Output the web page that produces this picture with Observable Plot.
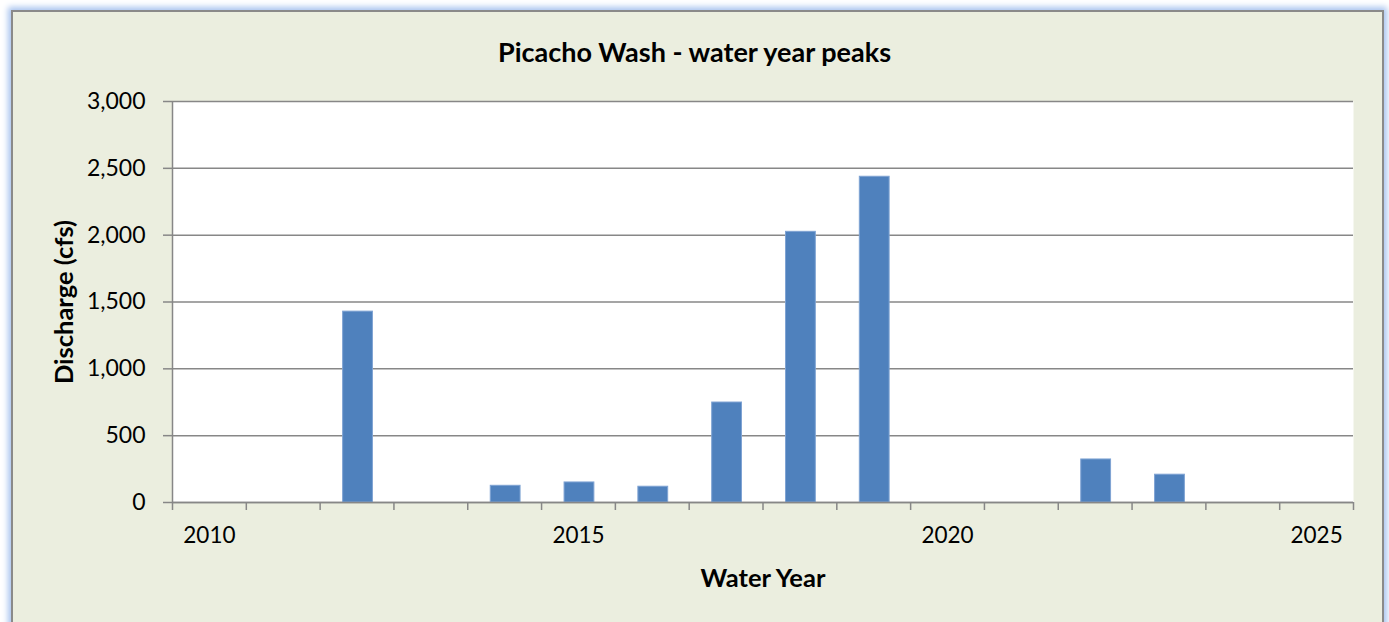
<!DOCTYPE html>
<html>
<head>
<meta charset="utf-8">
<script src="https://cdn.jsdelivr.net/npm/d3@7"></script>
<script src="https://cdn.jsdelivr.net/npm/@observablehq/plot@0.6"></script>
<style>
  html, body { margin: 0; padding: 0; background: #ffffff; width: 1389px; height: 622px; overflow: hidden; }
  #frame {
    position: absolute; left: 11px; top: 10px; width: 1369px; height: 640px;
    background: #EBEEDF; border: 2px solid #8a8a8a;
    box-shadow: 0 0 6px 3px #a9c4ef;
  }
  #title {
    position: absolute; left: 0; width: 1389px; text-align: center; line-height: 32px;
    top: 36px; font-family: Lato, sans-serif; font-weight: bold; font-size: 27px; color: #000;
  }
  #chart { position: absolute; left: 0; top: 0; }
</style>
</head>
<body>
<div id="frame"></div>
<div id="title">Picacho Wash - water year peaks</div>
<div id="chart"></div>
<script>
const years = [2010, 2011, 2012, 2013, 2014, 2015, 2016, 2017, 2018, 2019, 2020, 2021, 2022, 2023, 2024, 2025];
const peaks = [0, 0, 1428, 0, 125, 150, 118, 748, 2025, 2437, 0, 0, 322, 208, 0, 0];
const labelYears = [2010, 2015, 2020, 2025];
const yTicks = [0, 500, 1000, 1500, 2000, 2500, 3000];

const data = years.map((y, i) => ({year: y, peak: peaks[i]}));
const bounds = [...years.map(y => y - 0.5), years[years.length - 1] + 0.5];
const bars = data.filter(d => d.peak > 0);

const plot = Plot.plot({
  width: 1389,
  height: 622,
  marginLeft: 172,
  marginRight: 36,
  marginTop: 101,
  marginBottom: 120,
  style: {background: "transparent", fontFamily: "Lato, sans-serif", fontSize: "23px", color: "#000"},
  x: {type: "linear", domain: [bounds[0], bounds[bounds.length - 1]]},
  y: {domain: [0, 3000]},
  marks: [
    Plot.frame({fill: "#ffffff", stroke: null}),
    Plot.gridY(yTicks, {stroke: "#878787", strokeOpacity: 1, strokeWidth: 1.5}),
    Plot.rectY(bars, {x1: d => d.year - 0.5, x2: d => d.year + 0.5, y: "peak", fill: "#4F81BD", stroke: "#7fa3d3", strokeWidth: 1, insetLeft: 23, insetRight: 21}),
    Plot.ruleX([bounds[0]], {stroke: "#878787", strokeWidth: 1.5}),
    Plot.ruleY([0], {stroke: "#878787", strokeWidth: 1.5}),
    Plot.axisY(yTicks, {tickSize: 9, tickPadding: 18, stroke: "#878787", strokeWidth: 1.5, tickFormat: d3.format(","), fontSize: 23,
      label: "Discharge (cfs)", labelAnchor: "center", labelArrow: "none", labelOffset: 118}),
    Plot.axisX(bounds, {tickSize: 8, stroke: "#878787", strokeWidth: 1.5, tickFormat: () => "", label: null}),
    Plot.axisX(labelYears, {tickSize: 0, tickPadding: 25, tickFormat: d => String(d), fontSize: 22.5,
      label: "Water Year", labelAnchor: "center", labelArrow: "none", labelOffset: 84})
  ]
});
d3.select(plot).selectAll("[aria-label='y-axis label'] text, [aria-label='x-axis label'] text, [aria-label='y-axis label'], [aria-label='x-axis label']")
  .style("font-weight", "bold").style("font-size", "25.5px");
document.getElementById("chart").appendChild(plot);
</script>
</body>
</html>
